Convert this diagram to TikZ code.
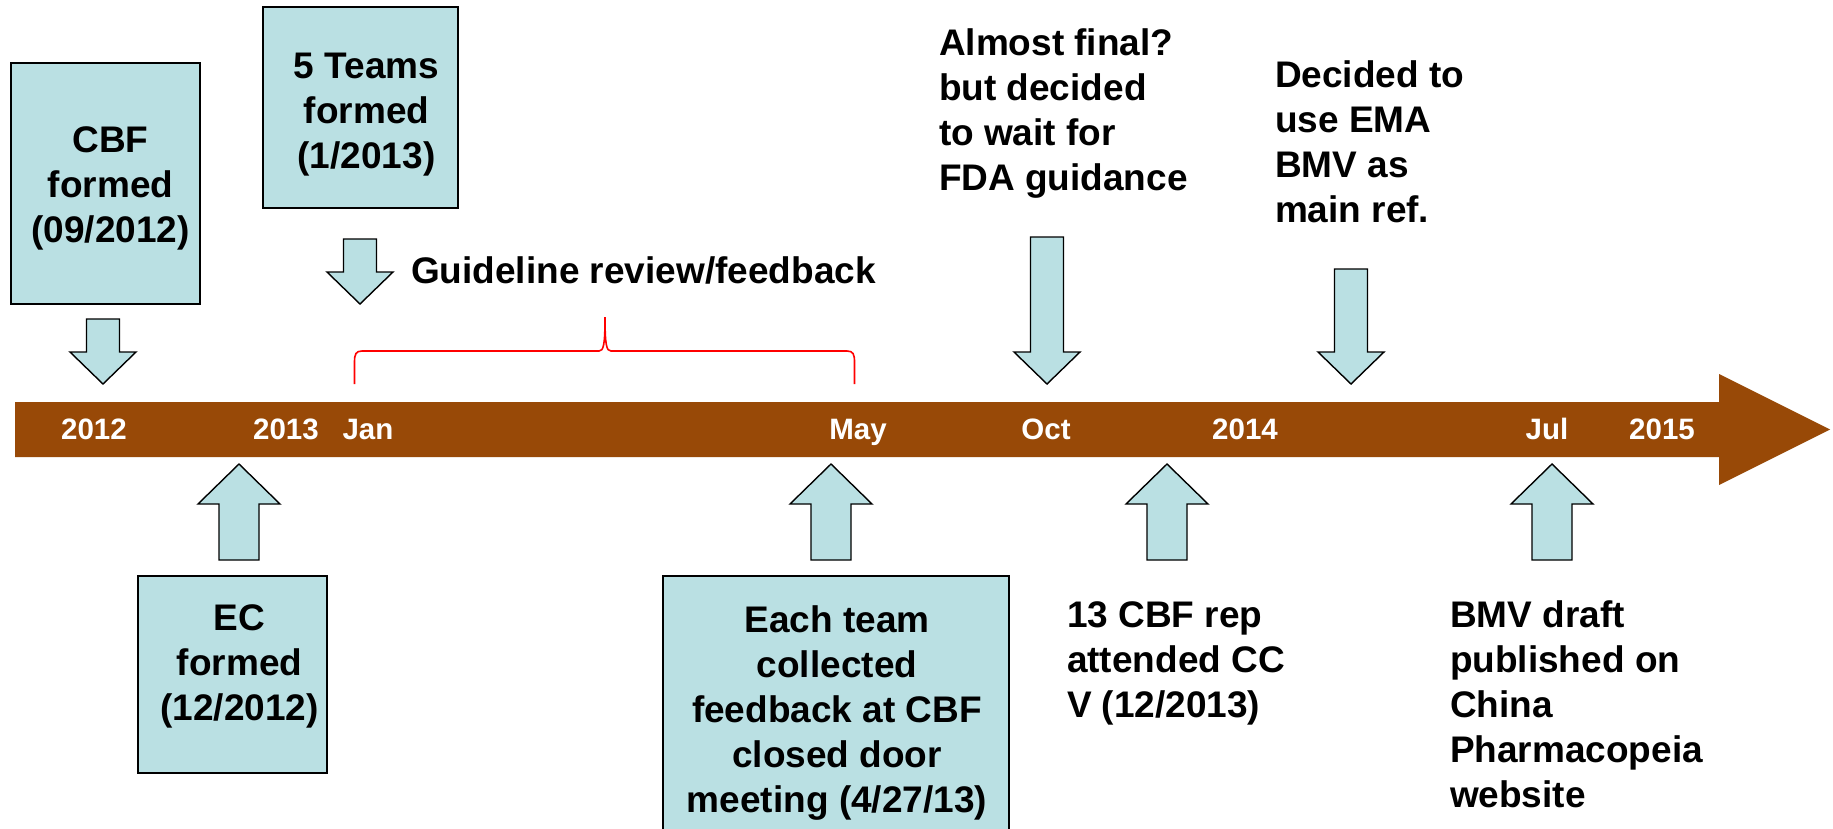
\documentclass[tikz,border=0pt]{standalone}
\usepackage{fontspec}
\setmainfont{Liberation Sans}
\definecolor{boxfill}{RGB}{186,224,227}
\definecolor{barbrown}{RGB}{152,73,7}
\definecolor{bracered}{RGB}{255,0,0}
\newcommand\BoxText[5]{\begin{minipage}[t][#2][t]{#1}\centering\leftskip=#4 plus 1fil\relax\rule{0pt}{#3}#5\end{minipage}}
\newcommand\DownArr[4]{\draw[arrowshape] (#1-16.5,#2) -- (#1+16.5,#2) -- (#1+16.5,#3) -- (#1+33,#3) -- (#1,#4) -- (#1-33,#3) -- (#1-16.5,#3) -- cycle;}
\newcommand\UpArr[1]{\draw[arrowshape] (#1-20,560) -- (#1+20,560) -- (#1+20,504) -- (#1+41,504) -- (#1,464) -- (#1-41,504) -- (#1-20,504) -- cycle;}
\begin{document}
\begin{tikzpicture}[x=1pt,y=-1pt,
  boxnode/.style={draw=black, line width=1.8pt, fill=boxfill, inner sep=0pt, outer sep=0pt, font=\bfseries\fontsize{37}{45}\selectfont},
  txt/.style={inner sep=0pt, outer sep=0pt, align=left, font=\bfseries\fontsize{37}{45}\selectfont},
  barlbl/.style={inner sep=0pt, text=white, font=\bfseries\fontsize{29.5}{34}\selectfont},
  arrowshape/.style={draw=black, line width=1.4pt, fill=boxfill, line join=miter},
  bracestyle/.style={draw=bracered, line width=1.6pt}]
\useasboundingbox (0,0) rectangle (1833,828);
\clip (0,0) rectangle (1833,828);
\fill[white] (0,0) rectangle (1833,828);

% timeline bar
\fill[barbrown] (15,402) -- (1719,402) -- (1719,374) -- (1830,429.5) -- (1719,485) -- (1719,457) -- (15,457) -- cycle;
\node[barlbl, anchor=base] (y2012) at (94,439) {2012};
\node[barlbl, anchor=base] (y2013) at (286,439) {2013};
\node[barlbl, anchor=base] (mjan) at (368,439) {Jan};
\node[barlbl, anchor=base] (mmay) at (858,439) {May};
\node[barlbl, anchor=base] (moct) at (1046,439) {Oct};
\node[barlbl, anchor=base] (y2014) at (1245,439) {2014};
\node[barlbl, anchor=base] (mjul) at (1547,439) {Jul};
\node[barlbl, anchor=base] (y2015) at (1662,439) {2015};

% boxes above
\node[boxnode, anchor=north west] (cbf) at (11,63) {\BoxText{189pt}{241pt}{89pt}{10pt}{CBF\\formed\\(09/2012)}};
\node[boxnode, anchor=north west] (teams) at (263,7) {\BoxText{195pt}{201pt}{71pt}{12pt}{5 Teams\\formed\\(1/2013)}};

% boxes below
\node[boxnode, anchor=north west] (ec) at (138,576) {\BoxText{189pt}{197pt}{54pt}{14pt}{EC\\formed\\(12/2012)}};
\node[boxnode, anchor=north west] (each) at (663,576) {\BoxText{346pt}{270pt}{56pt}{2pt}{Each team\\collected\\feedback at CBF\\closed door\\meeting (4/27/13)}};

% free texts
\node[txt, anchor=base west] (guide) at (411,283) {Guideline review/feedback};
\node[txt, anchor=north west] (almost) at (939,25) {\rule{0pt}{30pt}Almost final?\\but decided\\to wait for\\FDA guidance};
\node[txt, anchor=north west] (ema) at (1275,57) {\rule{0pt}{30pt}Decided to\\use EMA\\BMV as\\main ref.};
\node[txt, anchor=north west] (cc) at (1067,597) {\rule{0pt}{30pt}13 CBF rep\\attended CC\\V (12/2013)};
\node[txt, anchor=north west] (bmv) at (1450,597) {\rule{0pt}{30pt}BMV draft\\published on\\China\\Pharmacopeia\\website};

% down arrows
\DownArr{103}{319}{352}{384}
\DownArr{360}{239}{272}{304}
\DownArr{1047}{237}{352}{384}
\DownArr{1351}{269}{352}{384}

% up arrows
\UpArr{239}
\UpArr{831}
\UpArr{1167}
\UpArr{1552}

% brace
\draw[bracestyle] (354.5,384) -- (354.5,362) .. controls (354.5,354) and (356,351) .. (362,351) -- (599,351) .. controls (603.5,351) and (605,345) .. (605,317) .. controls (605,345) and (606.5,351) .. (611,351) -- (847,351) .. controls (853,351) and (854.5,354) .. (854.5,362) -- (854.5,384);
\end{tikzpicture}
\end{document}
